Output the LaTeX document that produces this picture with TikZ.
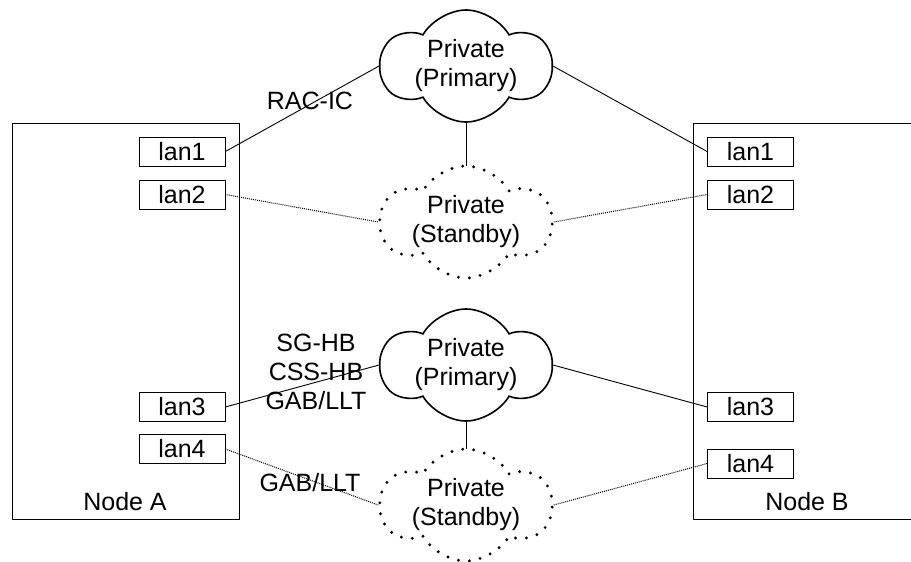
\documentclass[tikz,border=0pt]{standalone}
\usepackage{fontspec}
\setmainfont{Liberation Sans}
\usetikzlibrary{shapes.symbols,backgrounds}
\begin{document}
\begin{tikzpicture}[x=1pt,y=-1pt,
  every node/.style={font=\fontsize{25}{29}\selectfont},
  hostbox/.style={draw, line width=0.8pt, inner sep=0pt},
  lanbox/.style={draw, line width=0.8pt, minimum width=86pt, minimum height=29pt, inner sep=0pt},
  net/.style={cloud, cloud puffs=6, cloud puff arc=120, cloud ignores aspect, minimum width=170pt, minimum height=112pt, inner sep=0pt, align=center, fill=white},
  primary/.style={net, draw, line width=1.6pt},
  standby/.style={net, draw, line width=3.2pt, dash pattern=on 0pt off 11pt, line cap=round},
  link/.style={line width=0.9pt},
  backup/.style={line width=1pt, densely dotted},
  lbl/.style={align=center, inner sep=0pt}
]
\useasboundingbox (0,0) rectangle (911,562);

% hosts
\node[hostbox, minimum width=227pt, minimum height=396pt] (hostA) at (125.5,321) {};
\node[hostbox, minimum width=237pt, minimum height=396pt] (hostB) at (811.5,321) {};
\node[lbl] (labA) at (125,502) {Node A};
\node[lbl] (labB) at (807,502) {Node B};

% interfaces
\node[lanbox] (l1a) at (182,151.5) {lan1};
\node[lanbox] (l2a) at (182,194.5) {lan2};
\node[lanbox] (l3a) at (182,407) {lan3};
\node[lanbox] (l4a) at (182,449) {lan4};
\node[lanbox] (l1b) at (750.5,151.5) {lan1};
\node[lanbox] (l2b) at (750.5,194.5) {lan2};
\node[lanbox] (l3b) at (750.5,407) {lan3};
\node[lanbox] (l4b) at (750.5,463.5) {lan4};

% networks
\node[primary] (p1) at (466,66) {Private\\(Primary)};
\node[standby] (s1) at (466,222) {Private\\(Standby)};
\node[primary] (p2) at (466,365) {Private\\(Primary)};
\node[standby] (s2) at (466,505) {Private\\(Standby)};

% connectors
\draw[link] (l1a.east) -- (p1.west);
\draw[link] (p1.east) -- (l1b.west);
\draw[backup] (l2a.east) -- (s1.west);
\draw[backup] (s1.east) -- (l2b.west);
\draw[link] (l3a.east) -- (p2.west);
\draw[link] (p2.east) -- (l3b.west);
\draw[backup] (l4a.east) -- (s2.west);
\draw[backup] (s2.east) -- (l4b.west);
\begin{pgfonlayer}{background}
\draw[link] (p1.center) -- (s1.center);
\draw[link] (p2.center) -- (s2.center);
\end{pgfonlayer}

% labels
\node[lbl] (rac) at (310,101) {RAC-IC};
\node[lbl] (hb) at (316,372) {SG-HB\\CSS-HB\\GAB/LLT};
\node[lbl] (gab) at (310,483) {GAB/LLT};
\end{tikzpicture}
\end{document}
